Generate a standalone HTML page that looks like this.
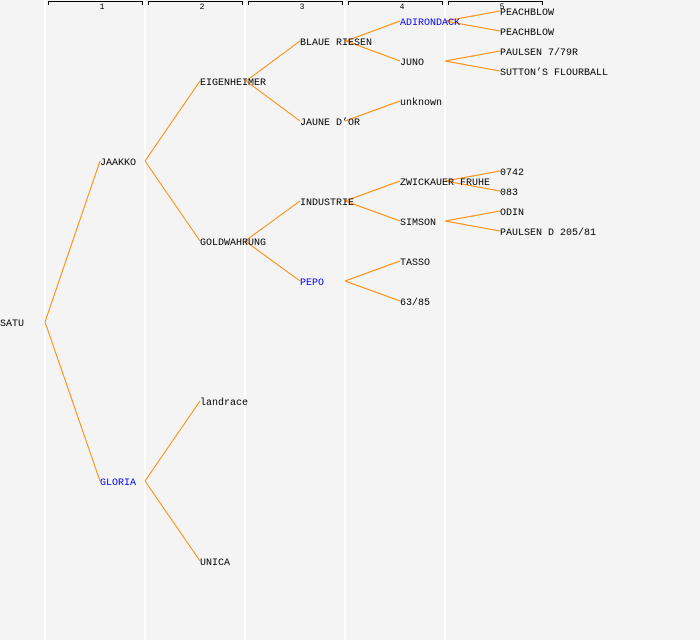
<!DOCTYPE html>
<html><head><style>
html,body{margin:0;padding:0;background:#f4f4f4;}
svg{display:block;}
text{font-family:"Liberation Mono","DejaVu Sans Mono",monospace;font-size:10px;fill:#000;}
.b{fill:#0000ff;}
.h{font-size:8px;}
</style></head><body>
<svg width="700" height="640" xmlns="http://www.w3.org/2000/svg">
<rect width="700" height="640" fill="#f4f4f4"/>
<g stroke="#ffffff" stroke-width="2">
<line x1="45" y1="0" x2="45" y2="640"/><line x1="145" y1="0" x2="145" y2="640"/>
<line x1="245" y1="0" x2="245" y2="640"/><line x1="345" y1="0" x2="345" y2="640"/>
<line x1="445" y1="0" x2="445" y2="640"/>
</g>
<g stroke="#000" stroke-width="1" fill="none">
<path d="M48.5 5V1.5H142.5V5"/><path d="M148.5 5V1.5H242.5V5"/><path d="M248.5 5V1.5H342.5V5"/>
<path d="M348.5 5V1.5H442.5V5"/><path d="M448.5 5V1.5H542.5V5"/>
</g>
<g class="h"><text class="h" x="102" y="9" text-anchor="middle">1</text><text class="h" x="202" y="9" text-anchor="middle">2</text><text class="h" x="302" y="9" text-anchor="middle">3</text><text class="h" x="402" y="9" text-anchor="middle">4</text><text class="h" x="502" y="9" text-anchor="middle">5</text></g>
<g stroke="#ff8800" stroke-width="1" fill="none">
<path d="M45 322L100 161M45 322L100 481"/>
<path d="M145 161L200 81M145 161L200 241M145 481L200 401M145 481L200 561"/>
<path d="M246 81L300 41M246 81L300 121M245 241L300 201M245 241L300 281"/>
<path d="M346 41L400 21M346 41L400 61M345 121L400 101M345 201L400 181M345 201L400 221M345 281L400 261M345 281L400 301"/>
<path d="M445 21L500 11M445 21L500 31M445 61L500 51M445 61L500 71M445 181L500 171M445 181L500 191M445 221L500 211M445 221L500 231"/>
</g>
<g>
<text x="0" y="326">SATU</text>
<text x="100" y="165">JAAKKO</text>
<text x="100" y="485" class="b">GLORIA</text>
<text x="200" y="85">EIGENHEIMER</text>
<text x="200" y="245">GOLDWAHRUNG</text>
<text x="200" y="405">landrace</text>
<text x="200" y="565">UNICA</text>
<text x="300" y="45">BLAUE RIESEN</text>
<text x="300" y="125">JAUNE D’OR</text>
<text x="300" y="205">INDUSTRIE</text>
<text x="300" y="285" class="b">PEPO</text>
<text x="400" y="25" class="b">ADIRONDACK</text>
<text x="400" y="65">JUNO</text>
<text x="400" y="105">unknown</text>
<text x="400" y="185">ZWICKAUER FRUHE</text>
<text x="400" y="225">SIMSON</text>
<text x="400" y="265">TASSO</text>
<text x="400" y="305">63/85</text>
<text x="500" y="15">PEACHBLOW</text>
<text x="500" y="35">PEACHBLOW</text>
<text x="500" y="55">PAULSEN 7/79R</text>
<text x="500" y="75">SUTTON’S FLOURBALL</text>
<text x="500" y="175">0742</text>
<text x="500" y="195">083</text>
<text x="500" y="215">ODIN</text>
<text x="500" y="235">PAULSEN D 205/81</text>
</g>
</svg>
</body></html>
